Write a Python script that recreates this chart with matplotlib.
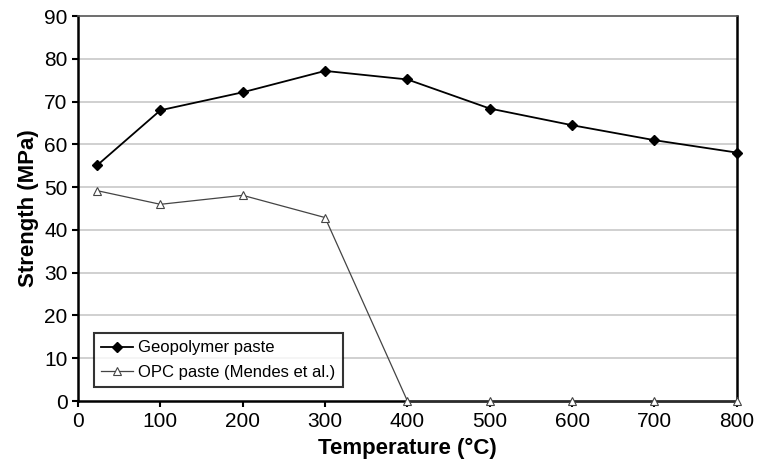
import matplotlib
matplotlib.use("Agg")
import matplotlib.pyplot as plt

# Data
temps = [23, 100, 200, 300, 400, 500, 600, 700, 800]
geopolymer = [55.1, 68.0, 72.2, 77.2, 75.2, 68.4, 64.5, 61.0, 58.1]
opc = [49.2, 46.0, 48.1, 42.9, 0, 0, 0, 0, 0]
x_ticks = [0, 100, 200, 300, 400, 500, 600, 700, 800]
y_ticks = [0, 10, 20, 30, 40, 50, 60, 70, 80, 90]

plt.rcParams["font.family"] = ["Liberation Sans", "DejaVu Sans"]

fig = plt.figure(figsize=(7.58, 4.62), dpi=100)
ax = fig.add_axes([0.103, 0.132, 0.869, 0.833])

for y in y_ticks[1:-1]:
    ax.axhline(y, color="#c8c8c8", linewidth=1.2, zorder=0)

ax.plot(temps, geopolymer, color="black", linewidth=1.3, marker="D",
        markersize=5, markerfacecolor="black", label="Geopolymer paste",
        clip_on=False, zorder=3)
ax.plot(temps, opc, color="#444444", linewidth=0.9, marker="^",
        markersize=6, markerfacecolor="white", markeredgecolor="#444444",
        markeredgewidth=0.8, label="OPC paste (Mendes et al.)",
        clip_on=False, zorder=3)

ax.set_xlim(0, 800)
ax.set_ylim(0, 90)
ax.set_xticks(x_ticks)
ax.set_yticks(y_ticks)
ax.tick_params(axis="both", direction="out", length=4, width=1.5,
               labelsize=15, colors="black")
ax.tick_params(axis="x", pad=4)

ax.spines["left"].set_linewidth(1.8)
ax.spines["bottom"].set_linewidth(1.8)
ax.spines["right"].set_linewidth(1.8)
ax.spines["top"].set_linewidth(1.2)
ax.spines["top"].set_color("#555555")

ax.set_xlabel("Temperature (°C)", fontsize=16, fontweight="bold", labelpad=5)
ax.set_ylabel("Strength (MPa)", fontsize=16, fontweight="bold", labelpad=4)

leg = ax.legend(loc="lower left", bbox_to_anchor=(0.024, 0.036), fontsize=12,
                frameon=True, fancybox=False, edgecolor="black",
                handlelength=1.9, handletextpad=0.3, borderpad=0.45,
                labelspacing=0.55, borderaxespad=0)
leg.get_frame().set_linewidth(1.5)

fig.savefig("out.png", dpi=100)
